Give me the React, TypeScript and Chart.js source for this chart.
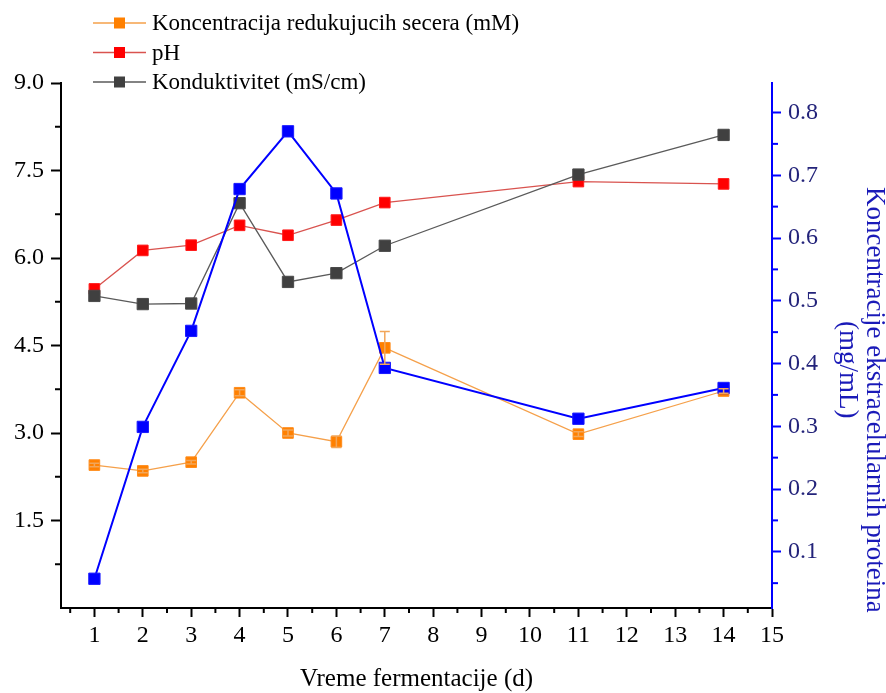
import React, { useEffect, useRef } from 'react';
import { Chart, registerables } from 'chart.js';

Chart.register(...registerables);

const days = [1, 2, 3, 4, 5, 6, 7, 11, 14];
const sugar = [2.45, 2.35, 2.5, 3.69, 3.0, 2.85, 4.46, 2.98, 3.72];
const sugarErr = [0.03, 0.03, 0.03, 0.05, 0.05, 0.1, 0.28, 0.04, 0.04];
const ph = [5.47, 6.13, 6.22, 6.56, 6.39, 6.65, 6.95, 7.31, 7.27];
const conductivity = [5.35, 5.21, 5.22, 6.94, 5.59, 5.74, 6.21, 7.43, 8.11];
const protein = [0.057, 0.299, 0.452, 0.678, 0.77, 0.671, 0.393, 0.312, 0.361];

const sugarLabel = 'Koncentracija redukujucih secera (mM)';
const phLabel = 'pH';
const condLabel = 'Konduktivitet (mS/cm)';
const proteinTitle = ['Koncentracije ekstracelularnih proteina', '(mg/mL)'];
const xTitle = 'Vreme fermentacije (d)';

const FONT = "'Liberation Serif', 'Times New Roman', serif";

const toPts = (ys: number[]) => days.map((d, i) => ({ x: d, y: ys[i] }));

const errorBars = {
  id: 'errorBars',
  afterDatasetsDraw(chart: any) {
    const { ctx } = chart;
    const xs = chart.scales.x;
    const ys = chart.scales.y;
    ctx.save();
    ctx.strokeStyle = '#f2a65a';
    ctx.lineWidth = 1.5;
    days.forEach((d, i) => {
      const px = xs.getPixelForValue(d);
      const top = ys.getPixelForValue(sugar[i] + sugarErr[i]);
      const bot = ys.getPixelForValue(sugar[i] - sugarErr[i]);
      ctx.beginPath();
      ctx.moveTo(px, top);
      ctx.lineTo(px, bot);
      ctx.moveTo(px - 5, top);
      ctx.lineTo(px + 5, top);
      ctx.moveTo(px - 5, bot);
      ctx.lineTo(px + 5, bot);
      ctx.stroke();
    });
    ctx.restore();
  },
};

const minorTicks = {
  id: 'minorTicks',
  afterDraw(chart: any) {
    const { ctx } = chart;
    const { x, y, y1 } = chart.scales;
    ctx.save();
    ctx.lineWidth = 2;
    ctx.strokeStyle = '#000';
    for (let v = 0.5; v < 15; v += 1) {
      const px = x.getPixelForValue(v);
      if (px < x.left) continue;
      ctx.beginPath();
      ctx.moveTo(px, x.top);
      ctx.lineTo(px, x.top + 5);
      ctx.stroke();
    }
    for (let v = 0.75; v < 9; v += 1.5) {
      const py = y.getPixelForValue(v);
      ctx.beginPath();
      ctx.moveTo(y.right, py);
      ctx.lineTo(y.right - 6, py);
      ctx.stroke();
    }
    ctx.strokeStyle = '#0000ff';
    for (let v = 0.05; v < 0.84; v += 0.1) {
      const py = y1.getPixelForValue(v);
      ctx.beginPath();
      ctx.moveTo(y1.left, py);
      ctx.lineTo(y1.left + 6, py);
      ctx.stroke();
    }
    ctx.restore();
  },
};

const rightTitle = {
  id: 'rightTitle',
  afterDraw(chart: any) {
    const { ctx } = chart;
    const y1 = chart.scales.y1;
    ctx.save();
    ctx.font = `27px ${FONT}`;
    ctx.fillStyle = '#1a1ab8';
    ctx.textAlign = 'center';
    ctx.textBaseline = 'middle';
    const centers = [
      { x: y1.right - 12, y: y1.getPixelForValue(0.342) },
      { x: y1.right - 39, y: y1.getPixelForValue(0.39) },
    ];
    proteinTitle.forEach((t, i) => {
      ctx.save();
      ctx.translate(centers[i].x, centers[i].y);
      ctx.rotate(Math.PI / 2);
      ctx.fillText(t, 0, 0);
      ctx.restore();
    });
    ctx.restore();
  },
};

const customLegend = {
  id: 'customLegend',
  afterDraw(chart: any) {
    const { ctx } = chart;
    const items = chart.data.datasets.filter((ds: any) => ds.inLegend);
    ctx.save();
    ctx.font = `23px ${FONT}`;
    ctx.textBaseline = 'middle';
    ctx.textAlign = 'left';
    items.forEach((ds: any, i: number) => {
      const cy = 23 + i * 29.5;
      ctx.strokeStyle = ds.borderColor;
      ctx.lineWidth = 1.5;
      ctx.beginPath();
      ctx.moveTo(93, cy);
      ctx.lineTo(146, cy);
      ctx.stroke();
      ctx.fillStyle = ds.pointBackgroundColor;
      ctx.fillRect(114, cy - 5.5, 11, 11);
      ctx.fillStyle = '#000';
      ctx.fillText(ds.label, 152, cy + 1);
    });
    ctx.restore();
  },
};

export default function App() {
  const ref = useRef<HTMLCanvasElement>(null);

  useEffect(() => {
    document.body.style.margin = '0';
    const canvas = ref.current;
    if (!canvas) return;
    const chart = new Chart(canvas, {
      type: 'line',
      data: {
        datasets: [
          {
            label: sugarLabel,
            data: toPts(sugar),
            yAxisID: 'y',
            borderColor: '#f5a04a',
            borderWidth: 1.3,
            pointStyle: 'rect',
            pointRadius: 7.5,
            pointBackgroundColor: '#ff8000',
            pointBorderColor: '#ff8c1a',
            pointBorderWidth: 1,
            order: 4,
            inLegend: true,
          } as any,
          {
            label: phLabel,
            data: toPts(ph),
            yAxisID: 'y',
            borderColor: '#d9534f',
            borderWidth: 1.3,
            pointStyle: 'rect',
            pointRadius: 7.5,
            pointBackgroundColor: '#ff0000',
            pointBorderColor: '#ff1a1a',
            pointBorderWidth: 1,
            order: 3,
            inLegend: true,
          } as any,
          {
            label: condLabel,
            data: toPts(conductivity),
            yAxisID: 'y',
            borderColor: '#5a5a5a',
            borderWidth: 1.3,
            pointStyle: 'rect',
            pointRadius: 8,
            pointBackgroundColor: '#404040',
            pointBorderColor: '#4a4a4a',
            pointBorderWidth: 1,
            order: 2,
            inLegend: true,
          } as any,
          {
            label: proteinTitle[0],
            data: toPts(protein),
            yAxisID: 'y1',
            borderColor: '#0000ff',
            borderWidth: 2,
            pointStyle: 'rect',
            pointRadius: 8,
            pointBackgroundColor: '#0000ff',
            pointBorderColor: '#1a1aff',
            pointBorderWidth: 1,
            order: 1,
            inLegend: false,
          } as any,
        ],
      },
      options: {
        animation: false,
        responsive: false,
        maintainAspectRatio: false,
        layout: { padding: { top: 83, left: 0, right: 0, bottom: 0 } },
        plugins: {
          legend: { display: false },
          tooltip: { enabled: false },
        },
        elements: { line: { tension: 0 } },
        scales: {
          x: {
            type: 'linear',
            position: 'bottom',
            min: 0.31,
            max: 15,
            afterFit: (s: any) => {
              s.height = 85;
            },
            ticks: {
              stepSize: 1,
              includeBounds: false,
              color: '#000',
              font: { family: FONT, size: 24 },
              padding: 4,
              maxRotation: 0,
              autoSkip: false,
            },
            grid: {
              drawOnChartArea: false,
              drawTicks: true,
              tickLength: 9,
              tickWidth: 2,
              tickColor: '#000',
            },
            border: { display: true, color: '#000', width: 2 },
            title: {
              display: true,
              text: xTitle,
              color: '#000',
              font: { family: FONT, size: 25, lineHeight: 1 },
              padding: { top: 0, bottom: 1 },
            },
          },
          y: {
            type: 'linear',
            position: 'left',
            min: 0,
            max: 9,
            afterFit: (s: any) => {
              s.width = 61;
            },
            ticks: {
              stepSize: 1.5,
              includeBounds: false,
              color: '#000',
              font: { family: FONT, size: 24 },
              padding: 7,
              callback: (v: any) => (Number(v) === 0 ? '' : Number(v).toFixed(1)),
            },
            grid: {
              drawOnChartArea: false,
              drawTicks: true,
              tickLength: 10,
              tickWidth: 2,
              tickColor: (c: any) => (c.tick && c.tick.value === 0 ? 'rgba(0,0,0,0)' : '#000'),
            },
            border: { display: true, color: '#000', width: 2 },
          },
          y1: {
            type: 'linear',
            position: 'right',
            min: 0.0104,
            max: 0.847,
            afterFit: (s: any) => {
              s.width = 114;
            },
            ticks: {
              stepSize: 0.1,
              includeBounds: false,
              color: '#23237a',
              font: { family: FONT, size: 24 },
              padding: 7,
              callback: (v: any) => Number(v).toFixed(1),
            },
            grid: {
              drawOnChartArea: false,
              drawTicks: true,
              tickLength: 9,
              tickWidth: 2,
              tickColor: '#0000ff',
            },
            border: { display: true, color: '#0000ff', width: 2 },
            title: { display: false },
          },
        },
      } as any,
      plugins: [errorBars, minorTicks, rightTitle, customLegend],
    });
    return () => chart.destroy();
  }, []);

  return (
    <div style={{ width: 886, height: 693 }}>
      <canvas ref={ref} width={886} height={693} style={{ display: 'block', width: 886, height: 693 }} />
    </div>
  );
}
